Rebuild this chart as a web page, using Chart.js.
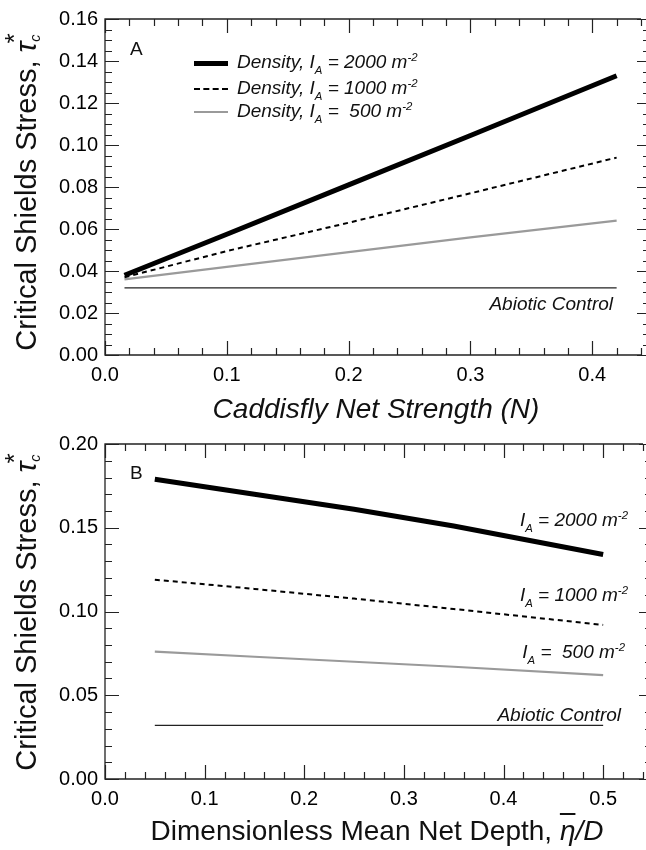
<!DOCTYPE html>
<html>
<head>
<meta charset="utf-8">
<script src="https://cdn.jsdelivr.net/npm/chart.js@4.4.1/dist/chart.umd.min.js"></script>
<style>
  body { margin: 0; background: #fff; }
  #wrap { position: relative; width: 646px; height: 850px; overflow: hidden;
    font-family: "Liberation Sans", Arial, sans-serif; color: #111; }
  canvas { position: absolute; left: 0; }
  .txt { position: absolute; white-space: nowrap; line-height: 1; }
  .it { font-style: italic; }
  .lbl { font-size: 19px; font-style: italic; }
  .sub { font-size: 0.6em; vertical-align: -0.45em; }
  .sup { font-size: 0.6em; vertical-align: 0.65em; }
  .ytitle { font-size: 29px; transform: translate(-50%, -50%) rotate(-90deg); }
  .xtitle { font-size: 28px; transform: translateX(-50%); }
  .panel { font-size: 19px; }
  .row { position: absolute; left: 194px; height: 22px; display: flex; align-items: center; }
  .swatch { width: 34px; margin-right: 9px; }
  .ov { text-decoration: overline; }
</style>
</head>
<body>
<div id="wrap">
  <canvas id="chartA" width="646" height="425" style="top:0"></canvas>
  <canvas id="chartB" width="646" height="425" style="top:425px"></canvas>

  <!-- panel A text -->
  <div class="txt panel" style="left:130px; top:39px">A</div>
  <div class="row" style="top:52px"><span class="swatch" style="border-top:5px solid #000"></span>
    <span class="lbl">Density, I<span class="sub">A</span> = 2000 m<span class="sup">-2</span></span></div>
  <div class="row" style="top:78px"><span class="swatch" style="border-top:2px dashed #000"></span>
    <span class="lbl">Density, I<span class="sub">A</span> = 1000 m<span class="sup">-2</span></span></div>
  <div class="row" style="top:101px"><span class="swatch" style="border-top:2px solid #9a9a9a"></span>
    <span class="lbl">Density, I<span class="sub">A</span> =&nbsp; 500 m<span class="sup">-2</span></span></div>
  <div class="txt lbl" style="right:33px; top:294px">Abiotic Control</div>
  <div class="txt ytitle" style="left:22px; top:192px">Critical Shields Stress, <i>τ</i><span style="font-size:.5em;font-style:italic;vertical-align:-0.3em">c</span><span style="font-size:.9em;vertical-align:0.5em;margin-left:-0.35em">*</span></div>
  <div class="txt xtitle it" style="left:376px; top:395px">Caddisfly Net Strength (N)</div>

  <!-- panel B text -->
  <div class="txt panel" style="left:130px; top:463px">B</div>
  <div class="txt lbl" style="right:18px; top:510px">I<span class="sub">A</span> = 2000 m<span class="sup">-2</span></div>
  <div class="txt lbl" style="right:18px; top:585px">I<span class="sub">A</span> = 1000 m<span class="sup">-2</span></div>
  <div class="txt lbl" style="right:21px; top:642px">I<span class="sub">A</span> =&nbsp; 500 m<span class="sup">-2</span></div>
  <div class="txt lbl" style="right:25px; top:705px">Abiotic Control</div>
  <div class="txt ytitle" style="left:22px; top:612px">Critical Shields Stress, <i>τ</i><span style="font-size:.5em;font-style:italic;vertical-align:-0.3em">c</span><span style="font-size:.9em;vertical-align:0.5em;margin-left:-0.35em">*</span></div>
  <div class="txt xtitle" style="left:377px; top:817px">Dimensionless Mean Net Depth, <i><span class="ov">η</span>/D</i></div>
</div>

<script>
// Panel A: critical Shields stress vs net strength
const netStrength = [0.016, 0.1, 0.2, 0.3, 0.42];
const tauA2000 = [0.038, 0.0575, 0.081, 0.1045, 0.133];
const tauA1000 = [0.037, 0.0495, 0.063, 0.077, 0.094];
const tauA500 = [0.036, 0.042, 0.049, 0.056, 0.064];
const tauAbioticA = [0.032, 0.032, 0.032, 0.032, 0.032];

// Panel B: critical Shields stress vs dimensionless net depth
const netDepth = [0.05, 0.15, 0.25, 0.35, 0.5];
const tauB2000 = [0.179, 0.170, 0.161, 0.151, 0.134];
const tauB1000 = [0.119, 0.1135, 0.1077, 0.1015, 0.092];
const tauB500 = [0.076, 0.073, 0.070, 0.067, 0.062];
const tauAbioticB = [0.032, 0.032, 0.032, 0.032, 0.032];

Chart.defaults.font.family = '"Liberation Sans", Arial, sans-serif';
Chart.defaults.color = "#111";

function pts(xs, ys) {
  return xs.map((x, i) => ({ x, y: ys[i] }));
}

// frame + inward major/minor ticks (like the original plotting software)
const frameTicks = {
  id: "frameTicks",
  beforeDatasetsDraw(chart, args, opts) {
    const { ctx, chartArea: a, scales } = chart;
    const x = scales.x, y = scales.y;
    ctx.save();
    ctx.strokeStyle = "#222";
    ctx.lineWidth = 1.3;
    ctx.beginPath();
    ctx.moveTo(a.right, a.top);
    ctx.lineTo(a.left, a.top);
    ctx.lineTo(a.left, a.bottom);
    ctx.lineTo(a.right, a.bottom);
    ctx.stroke();

    const big = 14, small = 7;
    ctx.lineWidth = 1.2;
    ctx.beginPath();
    let n = Math.round((x.max - x.min) / opts.xMinor);
    for (let i = 0; i <= n; i++) {
      const v = x.min + i * opts.xMinor;
      const major = Math.abs(v / opts.xMajor - Math.round(v / opts.xMajor)) < 1e-6;
      const px = Math.round(x.getPixelForValue(v)) + 0.5;
      const len = major ? big : small;
      ctx.moveTo(px, a.bottom); ctx.lineTo(px, a.bottom - len);
      ctx.moveTo(px, a.top); ctx.lineTo(px, a.top + len);
    }
    n = Math.round((y.max - y.min) / opts.yMinor);
    for (let i = 0; i <= n; i++) {
      const v = y.min + i * opts.yMinor;
      const major = Math.abs(v / opts.yMajor - Math.round(v / opts.yMajor)) < 1e-6;
      const py = Math.round(y.getPixelForValue(v)) + 0.5;
      const len = major ? big : small;
      ctx.moveTo(a.left, py); ctx.lineTo(a.left + len, py);
      ctx.moveTo(a.right + 6, py); ctx.lineTo(a.right + 6 - (major ? 10 : 4), py);
    }
    ctx.stroke();
    ctx.restore();
  },
};

function lineSets(xs, s2000, s1000, s500, abiotic) {
  return [
    { label: "2000", data: pts(xs, s2000), borderColor: "#000", borderWidth: 5, borderCapStyle: "butt" },
    { label: "1000", data: pts(xs, s1000), borderColor: "#000", borderWidth: 2, borderDash: [5, 4] },
    { label: "500", data: pts(xs, s500), borderColor: "#9a9a9a", borderWidth: 2.2 },
    { label: "Abiotic Control", data: pts(xs, abiotic), borderColor: "#222", borderWidth: 1.3 },
  ];
}

function makeChart(id, datasets, cfg) {
  return new Chart(document.getElementById(id), {
    type: "line",
    data: { datasets },
    options: {
      responsive: false,
      animation: false,
      devicePixelRatio: 1,
      layout: { padding: { left: 0, right: cfg.padRight, top: cfg.padTop, bottom: 0 } },
      elements: { point: { radius: 0 }, line: { tension: 0 } },
      plugins: {
        legend: { display: false },
        tooltip: { enabled: false },
        frameTicks: cfg.ticks,
      },
      scales: {
        x: {
          type: "linear",
          min: 0,
          max: cfg.xMax,
          border: { display: false },
          grid: { display: false, drawTicks: false },
          ticks: {
            stepSize: 0.1,
            includeBounds: false,
            padding: 8,
            color: "#000",
            font: { size: 20 },
            callback: (v) => v.toFixed(1),
          },
          afterFit: (s) => { s.height = cfg.xHeight; },
        },
        y: {
          min: 0,
          max: cfg.yMax,
          border: { display: false },
          grid: { display: false, drawTicks: false },
          ticks: {
            stepSize: cfg.ticks.yMajor,
            includeBounds: false,
            padding: 7,
            color: "#000",
            font: { size: 20 },
            callback: (v) => v.toFixed(2),
          },
          afterFit: (s) => { s.width = 105; },
        },
      },
    },
    plugins: [frameTicks],
  });
}

makeChart("chartA", lineSets(netStrength, tauA2000, tauA1000, tauA500, tauAbioticA), {
  xMax: 0.44, yMax: 0.16, padRight: 5, padTop: 15, xHeight: 70,
  ticks: { xMajor: 0.1, xMinor: 0.02, yMajor: 0.02, yMinor: 0.005 },
});

makeChart("chartB", lineSets(netDepth, tauB2000, tauB1000, tauB500, tauAbioticB), {
  xMax: 0.54, yMax: 0.2, padRight: 3, padTop: 18, xHeight: 71,
  ticks: { xMajor: 0.1, xMinor: 0.02, yMajor: 0.05, yMinor: 0.01 },
});
</script>
</body>
</html>
